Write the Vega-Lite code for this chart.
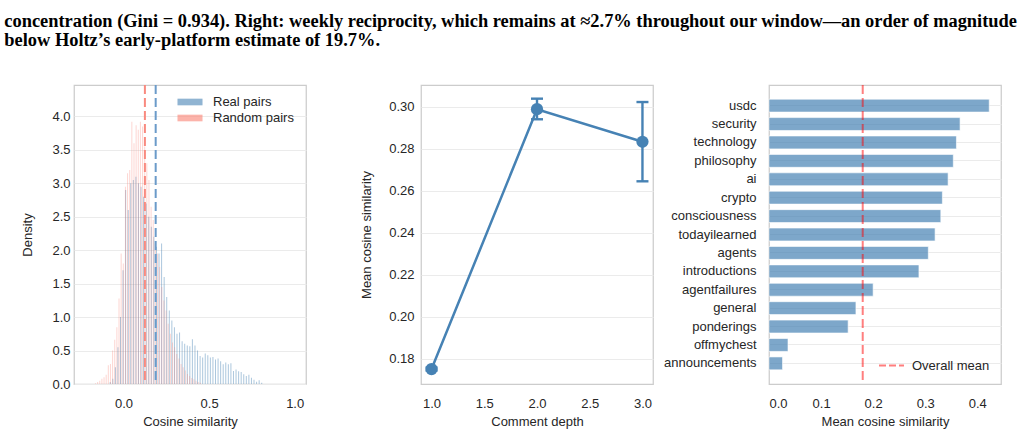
{
  "$schema": "https://vega.github.io/schema/vega-lite/v6.json",
  "padding": {"left": 4, "top": 12, "right": 0, "bottom": 0},
  "title": {
    "text": [
      "concentration (Gini = 0.934). Right: weekly reciprocity, which remains at ≈2.7% throughout our window—an order of magnitude",
      "below Holtz’s early-platform estimate of 19.7%."
    ],
    "anchor": "start",
    "frame": "bounds",
    "font": "Liberation Serif",
    "fontWeight": "bold",
    "fontSize": 18.4,
    "lineHeight": 18.5,
    "color": "#000000",
    "dx": -17,
    "offset": 34
  },
  "datasets": {
    "real": [
      {"x": -0.0775, "density": 0.03, "pairs": "Real pairs"},
      {"x": -0.0625, "density": 0.08, "pairs": "Real pairs"},
      {"x": -0.0475, "density": 0.25, "pairs": "Real pairs"},
      {"x": -0.0325, "density": 0.55, "pairs": "Real pairs"},
      {"x": -0.0175, "density": 1.0, "pairs": "Real pairs"},
      {"x": -0.0025, "density": 1.7, "pairs": "Real pairs"},
      {"x": 0.0125, "density": 2.9, "pairs": "Real pairs"},
      {"x": 0.0275, "density": 2.6, "pairs": "Real pairs"},
      {"x": 0.0425, "density": 3.0, "pairs": "Real pairs"},
      {"x": 0.0575, "density": 3.05, "pairs": "Real pairs"},
      {"x": 0.0725, "density": 3.1, "pairs": "Real pairs"},
      {"x": 0.0875, "density": 3.0, "pairs": "Real pairs"},
      {"x": 0.1025, "density": 2.95, "pairs": "Real pairs"},
      {"x": 0.1175, "density": 2.8, "pairs": "Real pairs"},
      {"x": 0.1325, "density": 2.7, "pairs": "Real pairs"},
      {"x": 0.1475, "density": 2.5, "pairs": "Real pairs"},
      {"x": 0.1625, "density": 2.35, "pairs": "Real pairs"},
      {"x": 0.1775, "density": 2.2, "pairs": "Real pairs"},
      {"x": 0.1925, "density": 2.05, "pairs": "Real pairs"},
      {"x": 0.2075, "density": 1.95, "pairs": "Real pairs"},
      {"x": 0.2225, "density": 2.1, "pairs": "Real pairs"},
      {"x": 0.2375, "density": 1.6, "pairs": "Real pairs"},
      {"x": 0.2525, "density": 1.3, "pairs": "Real pairs"},
      {"x": 0.2675, "density": 1.1, "pairs": "Real pairs"},
      {"x": 0.2825, "density": 0.95, "pairs": "Real pairs"},
      {"x": 0.2975, "density": 0.85, "pairs": "Real pairs"},
      {"x": 0.3125, "density": 0.75, "pairs": "Real pairs"},
      {"x": 0.3275, "density": 0.77, "pairs": "Real pairs"},
      {"x": 0.3425, "density": 0.64, "pairs": "Real pairs"},
      {"x": 0.3575, "density": 0.6, "pairs": "Real pairs"},
      {"x": 0.3725, "density": 0.575, "pairs": "Real pairs"},
      {"x": 0.3875, "density": 0.565, "pairs": "Real pairs"},
      {"x": 0.4025, "density": 0.67, "pairs": "Real pairs"},
      {"x": 0.4175, "density": 0.575, "pairs": "Real pairs"},
      {"x": 0.4325, "density": 0.5, "pairs": "Real pairs"},
      {"x": 0.4475, "density": 0.42, "pairs": "Real pairs"},
      {"x": 0.4625, "density": 0.395, "pairs": "Real pairs"},
      {"x": 0.4775, "density": 0.455, "pairs": "Real pairs"},
      {"x": 0.4925, "density": 0.43, "pairs": "Real pairs"},
      {"x": 0.5075, "density": 0.395, "pairs": "Real pairs"},
      {"x": 0.5225, "density": 0.405, "pairs": "Real pairs"},
      {"x": 0.5375, "density": 0.365, "pairs": "Real pairs"},
      {"x": 0.5525, "density": 0.38, "pairs": "Real pairs"},
      {"x": 0.5675, "density": 0.34, "pairs": "Real pairs"},
      {"x": 0.5825, "density": 0.295, "pairs": "Real pairs"},
      {"x": 0.5975, "density": 0.32, "pairs": "Real pairs"},
      {"x": 0.6125, "density": 0.295, "pairs": "Real pairs"},
      {"x": 0.6275, "density": 0.31, "pairs": "Real pairs"},
      {"x": 0.6425, "density": 0.195, "pairs": "Real pairs"},
      {"x": 0.6575, "density": 0.215, "pairs": "Real pairs"},
      {"x": 0.6725, "density": 0.19, "pairs": "Real pairs"},
      {"x": 0.6875, "density": 0.18, "pairs": "Real pairs"},
      {"x": 0.7025, "density": 0.145, "pairs": "Real pairs"},
      {"x": 0.7175, "density": 0.12, "pairs": "Real pairs"},
      {"x": 0.7325, "density": 0.14, "pairs": "Real pairs"},
      {"x": 0.7475, "density": 0.095, "pairs": "Real pairs"},
      {"x": 0.7625, "density": 0.065, "pairs": "Real pairs"},
      {"x": 0.7775, "density": 0.035, "pairs": "Real pairs"},
      {"x": 0.7925, "density": 0.055, "pairs": "Real pairs"},
      {"x": 0.8075, "density": 0.02, "pairs": "Real pairs"}
    ],
    "random": [
      {"x": -0.16375, "density": 0.01, "pairs": "Random pairs"},
      {"x": -0.15125, "density": 0.03, "pairs": "Random pairs"},
      {"x": -0.13875, "density": 0.05, "pairs": "Random pairs"},
      {"x": -0.12625, "density": 0.08, "pairs": "Random pairs"},
      {"x": -0.11375, "density": 0.1, "pairs": "Random pairs"},
      {"x": -0.10125, "density": 0.14, "pairs": "Random pairs"},
      {"x": -0.08875, "density": 0.28, "pairs": "Random pairs"},
      {"x": -0.07625, "density": 0.3, "pairs": "Random pairs"},
      {"x": -0.06375, "density": 0.5, "pairs": "Random pairs"},
      {"x": -0.05125, "density": 0.66, "pairs": "Random pairs"},
      {"x": -0.03875, "density": 0.85, "pairs": "Random pairs"},
      {"x": -0.02625, "density": 1.28, "pairs": "Random pairs"},
      {"x": -0.01375, "density": 1.95, "pairs": "Random pairs"},
      {"x": -0.00125, "density": 1.8, "pairs": "Random pairs"},
      {"x": 0.01125, "density": 2.95, "pairs": "Random pairs"},
      {"x": 0.02375, "density": 3.15, "pairs": "Random pairs"},
      {"x": 0.03625, "density": 3.2, "pairs": "Random pairs"},
      {"x": 0.04875, "density": 3.92, "pairs": "Random pairs"},
      {"x": 0.06125, "density": 3.6, "pairs": "Random pairs"},
      {"x": 0.07375, "density": 3.87, "pairs": "Random pairs"},
      {"x": 0.08625, "density": 3.8, "pairs": "Random pairs"},
      {"x": 0.09875, "density": 3.92, "pairs": "Random pairs"},
      {"x": 0.11125, "density": 3.85, "pairs": "Random pairs"},
      {"x": 0.12375, "density": 3.55, "pairs": "Random pairs"},
      {"x": 0.13625, "density": 3.3, "pairs": "Random pairs"},
      {"x": 0.14875, "density": 3.05, "pairs": "Random pairs"},
      {"x": 0.16125, "density": 2.65, "pairs": "Random pairs"},
      {"x": 0.17375, "density": 2.45, "pairs": "Random pairs"},
      {"x": 0.18625, "density": 2.1, "pairs": "Random pairs"},
      {"x": 0.19875, "density": 1.95, "pairs": "Random pairs"},
      {"x": 0.21125, "density": 1.75, "pairs": "Random pairs"},
      {"x": 0.22375, "density": 1.45, "pairs": "Random pairs"},
      {"x": 0.23625, "density": 1.25, "pairs": "Random pairs"},
      {"x": 0.24875, "density": 1.1, "pairs": "Random pairs"},
      {"x": 0.26125, "density": 0.9, "pairs": "Random pairs"},
      {"x": 0.27375, "density": 0.75, "pairs": "Random pairs"},
      {"x": 0.28625, "density": 0.62, "pairs": "Random pairs"},
      {"x": 0.29875, "density": 0.55, "pairs": "Random pairs"},
      {"x": 0.31125, "density": 0.45, "pairs": "Random pairs"},
      {"x": 0.32375, "density": 0.38, "pairs": "Random pairs"},
      {"x": 0.33625, "density": 0.3, "pairs": "Random pairs"},
      {"x": 0.34875, "density": 0.25, "pairs": "Random pairs"},
      {"x": 0.36125, "density": 0.2, "pairs": "Random pairs"},
      {"x": 0.37375, "density": 0.15, "pairs": "Random pairs"},
      {"x": 0.38625, "density": 0.12, "pairs": "Random pairs"},
      {"x": 0.39875, "density": 0.09, "pairs": "Random pairs"},
      {"x": 0.41125, "density": 0.07, "pairs": "Random pairs"},
      {"x": 0.42375, "density": 0.05, "pairs": "Random pairs"},
      {"x": 0.43625, "density": 0.03, "pairs": "Random pairs"},
      {"x": 0.44875, "density": 0.02, "pairs": "Random pairs"}
    ],
    "means": [
      {"pairs": "Real pairs", "mean": 0.188},
      {"pairs": "Random pairs", "mean": 0.125}
    ],
    "depth": [
      {"depth": 1, "mean": 0.1752, "lo": 0.1745, "hi": 0.1759},
      {"depth": 2, "mean": 0.2988, "lo": 0.294, "hi": 0.3038},
      {"depth": 3, "mean": 0.2833, "lo": 0.2645, "hi": 0.3022}
    ],
    "submolts": [
      {"submolt": "usdc", "sim": 0.423},
      {"submolt": "security", "sim": 0.367},
      {"submolt": "technology", "sim": 0.36},
      {"submolt": "philosophy", "sim": 0.354},
      {"submolt": "ai", "sim": 0.344},
      {"submolt": "crypto", "sim": 0.333},
      {"submolt": "consciousness", "sim": 0.33},
      {"submolt": "todayilearned", "sim": 0.319},
      {"submolt": "agents", "sim": 0.306},
      {"submolt": "introductions", "sim": 0.288},
      {"submolt": "agentfailures", "sim": 0.2},
      {"submolt": "general", "sim": 0.167},
      {"submolt": "ponderings", "sim": 0.152},
      {"submolt": "offmychest", "sim": 0.0365},
      {"submolt": "announcements", "sim": 0.026}
    ],
    "overall": [
      {"label": "Overall mean", "sim": 0.18}
    ]
  },
  "spacing": 53,
  "resolve": {
    "scale": {"color": "independent", "stroke": "independent"},
    "legend": {"color": "independent", "stroke": "independent"}
  },
  "hconcat": [
    {
      "width": 232,
      "height": 299,
      "encoding": {
        "x": {
          "field": "x", "type": "quantitative",
          "scale": {"domain": [-0.26, 1.037], "nice": false, "zero": false},
          "axis": {"values": [0, 0.5, 1], "format": ".1f", "title": "Cosine similarity", "grid": false, "labelPadding": 13, "titlePadding": 5}
        },
        "y": {
          "field": "density", "type": "quantitative", "stack": null,
          "scale": {"domain": [0, 4.47], "nice": false},
          "axis": {"values": [0, 0.5, 1, 1.5, 2, 2.5, 3, 3.5, 4], "format": ".1f", "title": "Density", "grid": true, "labelPadding": 4, "titlePadding": 17}
        }
      },
      "layer": [
        {
          "data": {"name": "real"},
          "mark": {"type": "bar", "size": 1, "fillOpacity": 0.45},
          "encoding": {
            "color": {
              "field": "pairs", "type": "nominal",
              "scale": {"domain": ["Real pairs", "Random pairs"], "range": ["steelblue", "salmon"]},
              "legend": {
                "title": null, "orient": "none", "legendX": 107, "legendY": 8, "padding": 0,
                "symbolType": "M-1.39,-0.37H1.39V0.37H-1.39Z", "symbolSize": 324,
                "symbolOpacity": 0.6, "symbolStrokeWidth": 0,
                "labelFontSize": 13, "labelOffset": 14, "rowPadding": 0
              }
            }
          }
        },
        {
          "data": {"name": "random"},
          "mark": {"type": "bar", "size": 1, "fillOpacity": 0.32},
          "encoding": {
            "color": {"field": "pairs", "type": "nominal"}
          }
        },
        {
          "data": {"name": "means"},
          "mark": {"type": "rule", "strokeWidth": 2, "strokeDash": [9, 4]},
          "encoding": {
            "x": {"field": "mean", "type": "quantitative"},
            "y": null,
            "stroke": {
              "field": "pairs", "type": "nominal",
              "scale": {"domain": ["Real pairs", "Random pairs"], "range": ["#6b9bc9", "#f98a7f"]},
              "legend": null
            }
          }
        }
      ]
    },
    {
      "spacing": 8,
      "resolve": {
        "scale": {"stroke": "independent"},
        "legend": {"stroke": "independent"}
      },
      "hconcat": [
        {
          "width": 232,
          "height": 299,
          "data": {"name": "depth"},
          "encoding": {
            "x": {
              "field": "depth", "type": "quantitative",
              "scale": {"domain": [0.9, 3.1], "nice": false, "zero": false},
              "axis": {"values": [1, 1.5, 2, 2.5, 3], "format": ".1f", "title": "Comment depth", "grid": false, "labelPadding": 13, "titlePadding": 5}
            }
          },
          "layer": [
            {
              "mark": {"type": "line", "color": "#4682b4", "strokeWidth": 2.5},
              "encoding": {
                "y": {
                  "field": "mean", "type": "quantitative",
                  "scale": {"domain": [0.1681, 0.3103], "nice": false, "zero": false},
                  "axis": {"values": [0.18, 0.2, 0.22, 0.24, 0.26, 0.28, 0.3], "format": ".2f", "title": "Mean cosine similarity", "grid": true, "labelPadding": 7, "titlePadding": 15}
                }
              }
            },
            {
              "mark": {"type": "rule", "color": "#4682b4", "strokeWidth": 2.4},
              "encoding": {
                "y": {"field": "lo", "type": "quantitative"},
                "y2": {"field": "hi"}
              }
            },
            {
              "mark": {"type": "tick", "orient": "horizontal", "color": "#4682b4", "size": 12, "thickness": 2.4, "opacity": 1},
              "encoding": {"y": {"field": "lo", "type": "quantitative"}}
            },
            {
              "mark": {"type": "tick", "orient": "horizontal", "color": "#4682b4", "size": 12, "thickness": 2.4, "opacity": 1},
              "encoding": {"y": {"field": "hi", "type": "quantitative"}}
            },
            {
              "mark": {"type": "circle", "color": "#4682b4", "size": 150, "opacity": 1},
              "encoding": {"y": {"field": "mean", "type": "quantitative"}}
            }
          ]
        },
        {
          "width": 232,
          "height": 299,
          "layer": [
            {
              "data": {"name": "submolts"},
              "mark": {"type": "bar", "color": "steelblue", "fillOpacity": 0.7, "stroke": "white", "strokeWidth": 0.6},
              "encoding": {
                "y": {
                  "field": "submolt", "type": "nominal", "sort": null,
                  "scale": {"paddingInner": 0.3, "paddingOuter": 0.77},
                  "axis": {"title": null, "grid": true, "labelPadding": 13}
                },
                "x": {
                  "field": "sim", "type": "quantitative",
                  "scale": {"domain": [0, 0.4456], "nice": false},
                  "axis": {"values": [0, 0.1, 0.2, 0.3, 0.4], "format": ".1f", "title": "Mean cosine similarity", "grid": false, "labelPadding": 13, "titlePadding": 5}
                }
              }
            },
            {
              "data": {"name": "overall"},
              "mark": {"type": "rule", "strokeWidth": 2, "strokeDash": [9, 4], "opacity": 0.5},
              "encoding": {
                "x": {"field": "sim", "type": "quantitative"},
                "stroke": {
                  "field": "label", "type": "nominal",
                  "scale": {"range": ["red"]},
                  "legend": {
                    "title": null, "orient": "bottom-right", "offset": 11, "padding": 0,
                    "symbolType": "stroke", "symbolSize": 625, "symbolStrokeWidth": 2,
                    "symbolDash": [7, 3], "symbolOpacity": 0.5, "symbolStrokeColor": "red",
                    "labelFontSize": 13, "labelOffset": 7
                  }
                }
              }
            }
          ]
        }
      ]
    }
  ],
  "config": {
    "font": "Liberation Sans",
    "view": {"stroke": "#cccccc", "strokeWidth": 1.25},
    "axis": {
      "domain": false, "ticks": false, "labelOverlap": false,
      "labelFont": "Liberation Sans", "titleFont": "Liberation Sans",
      "labelFontSize": 13, "titleFontSize": 13,
      "labelColor": "#262626", "titleColor": "#262626", "titleFontWeight": "normal",
      "gridColor": "#ebebeb", "gridWidth": 1
    },
    "legend": {"labelFont": "Liberation Sans", "labelColor": "#262626", "labelFontSize": 13}
  }
}
